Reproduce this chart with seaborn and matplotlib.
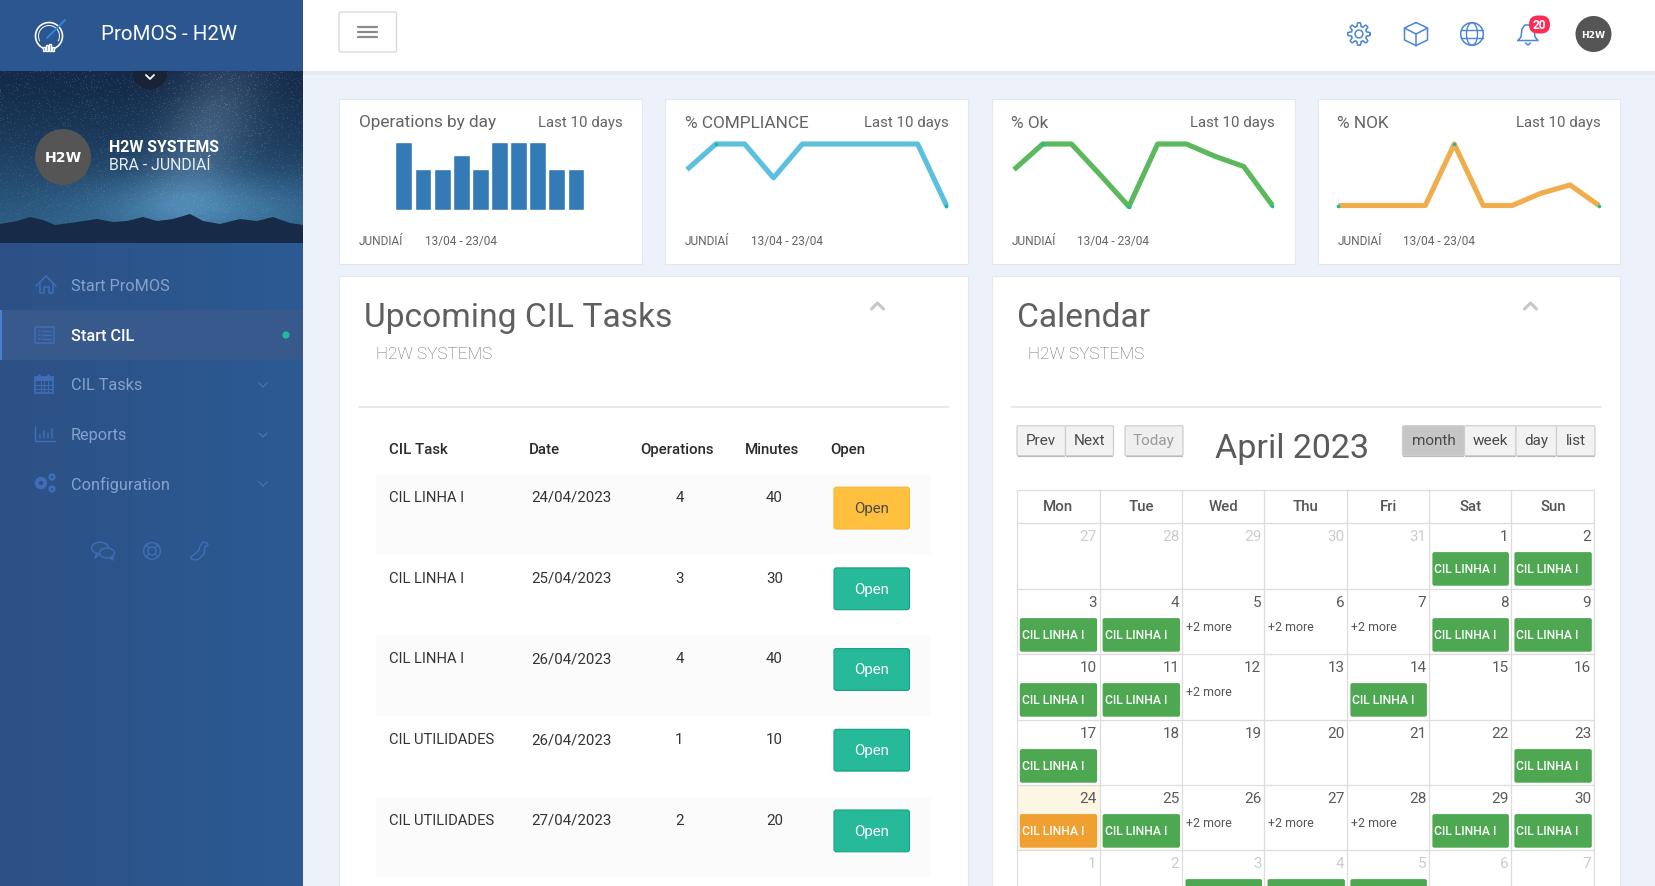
import numpy as np
import matplotlib
matplotlib.use('Agg')
import matplotlib.pyplot as plt
from matplotlib.patches import Rectangle, FancyBboxPatch, Circle, Ellipse, Polygon, Arc
import seaborn as sns

sns.set_theme(style='white')
plt.rcParams['font.family'] = ['Roboto', 'DejaVu Sans']

W, H = 1656, 887

# sparkline values
days = list(range(10))
operations = [5, 3, 3, 4, 3, 5, 5, 5, 3, 3]
compliance = [75, 100, 100, 67, 100, 100, 100, 100, 100, 40]
ok_values = [75, 100, 100, 70, 39, 100, 100, 88, 78, 40]
nok_values = [0, 0, 0, 0, 60, 0, 0, 12, 20, 0]

# table
task_names = ['CIL LINHA I', 'CIL LINHA I', 'CIL LINHA I', 'CIL UTILIDADES', 'CIL UTILIDADES']
task_dates = ['24/04/2023', '25/04/2023', '26/04/2023', '26/04/2023', '27/04/2023']
task_ops = [4, 3, 4, 1, 2]
task_minutes = [40, 30, 40, 10, 20]

# calendar
week_names = ['Mon', 'Tue', 'Wed', 'Thu', 'Fri', 'Sat', 'Sun']
grid_days = [27, 28, 29, 30, 31, 1, 2] + list(range(3, 31)) + [1, 2, 3, 4, 5, 6, 7]
other_month = [0, 1, 2, 3, 4, 35, 36, 37, 38, 39, 40, 41]
green_cells = [5, 6, 7, 8, 12, 13, 14, 15, 18, 21, 27, 29, 33, 34, 37, 38, 39]
orange_cells = [28]
more_cells = [9, 10, 11, 16, 30, 31, 32]
menu_labels = ['Start ProMOS', 'Start CIL', 'CIL Tasks', 'Reports', 'Configuration']

fig = plt.figure(figsize=(W / 100, H / 100), dpi=100, facecolor='#edf1f9')
ui = fig.add_axes([0, 0, 1, 1])
ui.set_xlim(0, W)
ui.set_ylim(H, 0)
ui.axis('off')


def box(x0, y0, x1, y1, fc, ec='none', lw=0, rad=0, z=2, ax=ui):
    if rad:
        p = FancyBboxPatch((x0 + rad, y0 + rad), x1 - x0 - 2 * rad, y1 - y0 - 2 * rad,
                           boxstyle=f'round,pad={rad},rounding_size={rad}', fc=fc, ec=ec, lw=lw, zorder=z)
    else:
        p = Rectangle((x0, y0), x1 - x0, y1 - y0, fc=fc, ec=ec, lw=lw, zorder=z)
    ax.add_patch(p)
    return p


def txt(x, y, s, size=12, color='#5a5a5a', ha='left', weight='normal', z=6, **kw):
    return ui.text(x, y, s, fontsize=size, color=color, ha=ha, va='center', fontweight=weight, zorder=z, **kw)


def line(xs, ys, color, lw=1.0, z=5):
    ui.plot(xs, ys, color=color, lw=lw, zorder=z, solid_capstyle='round', solid_joinstyle='round')


def px_axes(x0, y0, x1, y1):
    ax = fig.add_axes([x0 / W, 1 - y1 / H, (x1 - x0) / W, (y1 - y0) / H])
    ax.axis('off')
    ax.patch.set_alpha(0)
    return ax


# ------------------------------------------------------------------
# Sidebar
# ------------------------------------------------------------------
grad = np.linspace(0, 1, 64).reshape(1, -1, 1)
side = np.array([45, 81, 134]) * (1 - grad) + np.array([43, 90, 147]) * grad
ui.imshow(side.astype(np.uint8), extent=(0, 303, H, 0), aspect='auto', zorder=1)

# night sky picture
yy, xx = np.mgrid[72:244, 0:303].astype(float)
t = (yy - 72) / 172
sky = np.zeros(xx.shape + (3,))
for i, (a, b) in enumerate(zip((20, 42, 72), (48, 100, 140))):
    sky[..., i] = a + (b - a) * t ** 1.3
haze = np.exp(-((xx - 215 + (yy - 110) * 0.35) / 45) ** 2 - ((yy - 130) / 75) ** 2)
sky += haze[..., None] * np.array([38, 38, 38])
glow = np.exp(-((xx - 200) / 110) ** 2 - ((yy - 205) / 30) ** 2)
sky += glow[..., None] * np.array([28, 42, 48])
speck = np.modf(np.sin(xx * 12.9898 + yy * 78.233) * 43758.5453)[0]
sky += (np.abs(speck) > 0.93)[..., None] * 26 * (1 - t[..., None] * 0.7)
ui.imshow(np.clip(sky, 0, 255).astype(np.uint8), extent=(0, 303, 244, 72), aspect='auto', zorder=2)
ui.set_xlim(0, W)
ui.set_ylim(H, 0)
ridge = [(0, 225), (17, 222), (30, 218), (43, 221), (55, 226), (77, 223), (97, 220), (113, 223), (127, 222),
         (143, 218), (157, 222), (173, 220), (190, 215), (203, 222), (220, 225), (240, 220), (257, 222),
         (273, 218), (290, 224), (303, 226), (303, 244), (0, 244)]
ui.add_patch(Polygon(ridge, fc='#172a48', ec='none', zorder=3))

# dropdown tab under the header
ui.add_patch(Circle((150, 73), 17.5, fc='#182338', ec='none', zorder=3))
box(0, 0, 303, 72, '#2b5690', z=3)
line([146, 150, 154], [76, 80, 76], 'white', 1.3)

# logo
ui.add_patch(Circle((49, 37), 13.5, fc='none', ec='white', lw=1.2, zorder=5))
ui.add_patch(Arc((49, 37), 21, 21, theta1=150, theta2=30, ec='white', lw=0.7, zorder=5))
line([47, 65], [39, 21], '#2f86e0', 1.4)
ui.bar([44, 47, 50, 53], [4, 6, 7, 4], width=2, bottom=[48, 46, 45, 48], color='#2f86e0', zorder=5)
txt(101.5, 35, 'ProMOS - H2W', 14.8, 'white')

# profile
ui.add_patch(Circle((63, 158), 28, fc='#555555', ec='none', zorder=5))
txt(63, 158, 'H2W', 10.2, 'white', ha='center', weight='bold', family='DejaVu Sans')
txt(109.5, 147, 'H2W SYSTEMS', 11.4, 'white', weight='bold')
txt(109.5, 166, 'BRA - JUNDIAÍ', 11.4, '#e8edf3')

# menu
menu_y = [287, 337, 386, 436, 485]
box(0, 311, 303, 361, '#37598c', z=3)
box(0, 311, 2.5, 361, '#4a7fd0', z=4)
for label, y in zip(menu_labels, menu_y):
    active = label == 'Start CIL'
    txt(71, y, label, 11.7, 'white' if active else '#86a2cc', weight='medium' if active else 'normal')
for y in menu_y[2:]:
    line([259, 263, 267], [y - 2, y + 2, y - 2], '#4d74ad', 0.9)
ui.add_patch(Circle((286, 336), 3.6, fc='#1abc9c', ec='none', zorder=6))

ic = '#3f6db8'
# home icon
line([36, 46, 56], [287, 277, 287], ic, 1.1)
line([40, 40, 44, 44, 49, 49, 53, 53], [284, 294, 294, 288, 288, 294, 294, 284], ic, 1.1)
# list icon
box(35.5, 328, 54.5, 343.5, 'none', ec=ic, lw=1.1, z=5)
for y in (332, 336, 340):
    line([39, 40], [y, y], ic, 1.2)
    line([42.5, 51.5], [y, y], ic, 1.0)
# calendar icon
box(35.5, 378, 53, 394, 'none', ec=ic, lw=1.2, z=5)
box(35.5, 378, 53, 382, ic, z=5)
for x in (39.5, 48.5):
    line([x, x], [375.5, 380], ic, 1.8)
for x in (41, 44.5, 48):
    line([x, x], [382, 394], ic, 0.7)
for y in (386, 390):
    line([35.5, 53], [y, y], ic, 0.7)
# reports icon
line([35.5, 35.5, 55], [427, 441.5, 441.5], ic, 1.0)
for x, top in zip((40, 44, 48, 52), (436, 432, 434, 430)):
    line([x, x], [top, 439], ic, 1.1)
# gears icon
for cx, cy, r, lw in ((41, 484, 4.2, 2.8), (52, 478, 2.4, 1.8), (52, 490, 2.4, 1.8)):
    ui.add_patch(Circle((cx, cy), r, fc='none', ec=ic, lw=lw, zorder=5))
# chat, lifebuoy and phone icons
ui.add_patch(Ellipse((100, 549), 17, 11.5, fc='#2c5689', ec=ic, lw=1.0, zorder=5))
line([97, 95, 100], [554, 559, 555], ic, 1.0)
ui.add_patch(Ellipse((107, 554), 15, 10, fc='#2c5689', ec=ic, lw=1.0, zorder=6))
line([110, 113, 113], [559, 561, 557], ic, 1.0, z=7)
ui.add_patch(Circle((152, 552), 8.4, fc='none', ec=ic, lw=1.0, zorder=5))
ui.add_patch(Circle((152, 552), 4, fc='none', ec=ic, lw=1.0, zorder=5))
for sx, sy in ((-1, -1), (1, -1), (-1, 1), (1, 1)):
    line([152 + 3 * sx, 152 + 6 * sx], [552 + 3 * sy, 552 + 6 * sy], ic, 1.0)
line([191, 191.5, 195, 199, 204, 205, 208, 207, 203, 200, 199],
     [558, 560, 561, 560, 555, 548, 546, 544, 543, 547, 551], ic, 1.0)
line([199, 195, 191], [551, 555, 558], ic, 1.0)

# ------------------------------------------------------------------
# Top bar
# ------------------------------------------------------------------
box(303, 72, W, 76, '#e5e9f4', z=1)
box(303, 0, W, 72, 'white', z=2)
box(339, 13, 396.5, 53, 'white', ec='#d5d5d5', lw=0.9, rad=2)
for y in (28, 33, 38):
    line([358, 377.5], [y, y], '#8a8a8a', 1.6)

blue = '#4a86d8'
a = np.linspace(0, 2 * np.pi, 97)
gear_r = 9.5 + 1.7 * np.clip(np.cos(8 * a) * 3, -1, 1)
line(1359 + gear_r * np.cos(a), 35 + gear_r * np.sin(a), blue, 1.1)
ui.add_patch(Circle((1359, 35), 3.9, fc='none', ec=blue, lw=1.1, zorder=5))
line([1416, 1427.5, 1427.5, 1416, 1404.5, 1404.5, 1416], [23.5, 29, 41, 46.5, 41, 29, 23.5], blue, 1.1)
line([1404.5, 1416, 1427.5], [29, 35, 29], blue, 1.1)
line([1416, 1416], [35, 46.5], blue, 1.1)
ui.add_patch(Circle((1472, 35), 11.3, fc='none', ec=blue, lw=1.1, zorder=5))
ui.add_patch(Ellipse((1472, 35), 11, 22.6, fc='none', ec=blue, lw=1.0, zorder=5))
line([1461, 1483], [31, 31], blue, 1.0)
line([1461, 1483], [39, 39], blue, 1.0)
line([1518, 1521, 1522, 1525, 1531, 1534, 1535, 1538, 1518], [41.5, 38, 30, 26, 26, 30, 38, 41.5, 41.5], blue, 1.1)
line([1525.5, 1528, 1530.5], [44, 46, 44], blue, 1.1)
box(1529, 16.5, 1550, 34.5, '#fb2d55', rad=8.8, z=6)
txt(1539.5, 25.6, '20', 8.6, 'white', ha='center', weight='bold', z=7)
ui.add_patch(Circle((1593.5, 35), 18, fc='#555555', ec='none', zorder=5))
txt(1593.5, 35, 'H2W', 6.6, 'white', ha='center', weight='bold', family='DejaVu Sans')

# ------------------------------------------------------------------
# Sparkline cards
# ------------------------------------------------------------------
card_x = [(339.5, 642.5), (665.5, 968.5), (992, 1295), (1318, 1620.5)]
card_titles = ['Operations by day', '% COMPLIANCE', '% Ok', '% NOK']
for (x0, x1), title in zip(card_x, card_titles):
    box(x0, 99.5, x1, 264.5, 'white', ec='#e3e7ee', lw=0.8)
    txt(x0 + 19.5, 123, title, 12.4, '#636363')
    txt(x1 - 20, 123, 'Last 10 days', 10.8, '#636363', ha='right')
    txt(x0 + 19.5, 242, 'JUNDIAÍ', 8.6, '#636363')
    txt(x0 + 85.5, 242, '13/04 - 23/04', 8.6, '#636363')

ax = px_axes(394.3, 142.5, 585.5, 210.7)
sns.barplot(x=days, y=operations, color='#337ab7', saturation=1, width=0.88, ax=ax)
ax.set_xlim(-0.5, 9.5)
ax.set_ylim(0, 5)
ax.axis('off')

spark_series = [(compliance, '#5bc0de', (687, 946.5), (40, 100)),
                (ok_values, '#5cb85c', (1014, 1272.5), (40, 100)),
                (nok_values, '#f0ad4e', (1338.5, 1599), (0, 60))]
for values, color, (x0, x1), (lo, hi) in spark_series:
    ax = px_axes(x0, 145, x1, 206.5)
    sns.lineplot(x=days, y=values, color=color, lw=3.7, ax=ax, clip_on=False,
                 solid_joinstyle='round', solid_capstyle='butt')
    spots = [int(np.argmax(values)), int(np.argmin(values)), 9]
    ax.plot(spots, [values[i] for i in spots], ls='none', marker='o', ms=2.6, mec='none',
            color='#1abc9c', clip_on=False)
    ax.set_xlim(0, 9)
    ax.set_ylim(lo, hi)
    ax.axis('off')

# ------------------------------------------------------------------
# Panels
# ------------------------------------------------------------------
panel_head = [(339, 968, 'Upcoming CIL Tasks', 364.5, 376, 359.5, 948, 877.5),
              (992.5, 1620.5, 'Calendar', 1017, 1028.5, 1012, 1601, 1530.5)]
for x0, x1, title, tx, sx, d0, d1, cx in panel_head:
    box(x0, 276.5, x1, H + 5, 'white', ec='#e3e7ee', lw=0.8)
    txt(tx, 318.5, title, 24.2, '#5f5f5f')
    txt(sx, 354.5, 'H2W SYSTEMS', 12.3, '#6a6a6a', weight='light')
    line([d0, d1], [407.7, 407.7], '#e6e9ed', 1.5)
    line([cx - 6, cx, cx + 6], [310, 304, 310], '#c4c6c8', 2.2)

# task table
headers = [('CIL Task', 388.6), ('Date', 528.8), ('Operations', 640), ('Minutes', 745), ('Open', 830)]
for label, x in headers:
    txt(x, 450, label, 10.8, '#2b2b2b', weight='medium')

for i in range(len(task_names)):
    top = 475 + 80.7 * i
    if i % 2 == 0:
        box(376, top, 931.5, top + 80.5, '#fbfbfb', z=3)
    txt(388.8, top + 23, task_names[i], 10.65, '#333333')
    txt(531, top + 23, task_dates[i], 10.8, '#333333')
    txt(679.5, top + 23, str(task_ops[i]), 10.8, '#333333', ha='center')
    txt(774.5, top + 23, str(task_minutes[i]), 10.8, '#333333', ha='center')
    fc, ec, tc = ('#ffbf3f', '#f5b535', '#4a4a4a') if i == 0 else ('#26b99a', '#169f85', 'white')
    box(834, top + 13.2, 909.5, top + 55, fc, ec=ec, lw=0.8, rad=2.5, z=4)
    txt(871.8, top + 34, 'Open', 10.8, tc, ha='center')

# calendar toolbar
toolbar = [('Prev', 1017, 1065.5, '#f2f2f2', '#4a4a4a'), ('Next', 1065.5, 1113.5, '#f2f2f2', '#4a4a4a'),
           ('Today', 1125, 1183, '#efefef', '#999999'), ('month', 1402.5, 1464.5, '#c6c6c6', '#4a4a4a'),
           ('week', 1464.5, 1516, '#f2f2f2', '#4a4a4a'), ('day', 1516, 1556.5, '#f2f2f2', '#4a4a4a'),
           ('list', 1556.5, 1595, '#f2f2f2', '#4a4a4a')]
for label, x0, x1, fc, tc in toolbar:
    box(x0, 426.7, x1, 456.7, fc, ec='#cfcfcf', lw=0.9, rad=1.5, z=3)
    line([x0 + 1, x1 - 1], [456.7, 456.7], '#b9b9b9', 0.8, z=4)
    txt((x0 + x1) / 2, 441, label, 11, tc, ha='center')
txt(1292.5, 449.5, 'April 2023', 24.5, '#5a5a5a', ha='center')

# calendar grid
col_x = [1016.8, 1099.6, 1182.5, 1264.5, 1347.4, 1429.4, 1511.4, 1594.3]
row_y = [524.3, 590.3, 655.3, 721.3, 786.3, 851.3, 917.3]
grid_c = '#dddddd'
box(col_x[0], row_y[4], col_x[1], row_y[5], '#fdf6e3', z=3)
for x in col_x:
    line([x, x], [491.3, H + 5], grid_c, 0.9, z=4)
for y in [491.3] + row_y[:-1]:
    line([col_x[0], col_x[-1]], [y, y], grid_c, 0.9, z=4)
for j, name in enumerate(week_names):
    txt((col_x[j] + col_x[j + 1]) / 2, 507, name, 10.8, '#555555', ha='center', weight='medium')

for cell, day in enumerate(grid_days):
    r, c = divmod(cell, 7)
    x0, x1, y0 = col_x[c], col_x[c + 1], row_y[r]
    col = '#cccccc' if cell in other_month else '#5a5a5a'
    txt(x1 - 3, y0 + 12.5, str(day), 11, col, ha='right')
    if cell in green_cells or cell in orange_cells:
        fc = '#f0a030' if cell in orange_cells else '#4ea851'
        box(x0 + 3, y0 + 28.8, x1 - 2.5, y0 + 62.4, fc, rad=2, z=5)
        # the May labels fall below the bottom edge of the screenshot
        if y0 + 45.5 < H:
            txt(x0 + 5, y0 + 45.5, 'CIL LINHA I', 8.7, 'white', weight='medium')
    if cell in more_cells:
        txt(x0 + 3.5, y0 + 37.5, '+2 more', 8.9, '#555555')

fig.savefig('out.png', dpi=100)
